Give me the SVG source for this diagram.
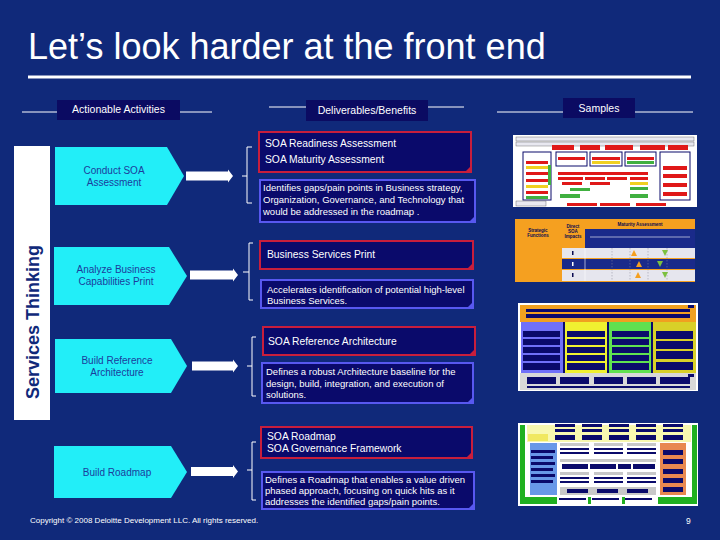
<svg xmlns="http://www.w3.org/2000/svg" width="720" height="540" viewBox="0 0 720 540">
<defs>
<style>
.t{font-family:"Liberation Sans",Arial,sans-serif;fill:#fff}
.hdr{font-size:10.5px;text-anchor:middle}
.act{font-family:"Liberation Sans",Arial,sans-serif;font-size:10px;fill:#1c3c9c;text-anchor:middle}
.pent{fill:#22eef8}
.arrow{fill:#fff}
.br{fill:none;stroke:#fff;stroke-width:1}
.red{fill:#0a0a6b;stroke:#c81e3c;stroke-width:2}
.blue{fill:#0a0a6b;stroke:#5858f0;stroke-width:2}
.rc{fill:#c81e3c}
.bc{fill:#5858f0}
.rt{font-size:10.3px}
.bt{font-size:9.5px}
.hl{stroke:#fff;stroke-width:1}
.hbox{fill:#0b0b62}
.nv{fill:#0a0a6b}
.tiny{font-family:"Liberation Sans",Arial,sans-serif;font-size:4.5px;font-weight:bold;fill:#0a0a50;text-anchor:middle}
</style>
</defs>
<rect width="720" height="540" fill="#10297a"/>

<g id="title">
<text class="t" x="28" y="59" font-size="36">Let’s look harder at the front end</text>
<rect x="28" y="75.5" width="663" height="3" fill="#fff"/>
</g>

<g id="headers">
<line class="hl" x1="22" y1="112" x2="57" y2="112"/>
<line class="hl" x1="180" y1="112" x2="212" y2="112"/>
<rect class="hbox" x="57" y="100" width="123" height="20"/>
<text class="t hdr" x="118.5" y="113">Actionable Activities</text>
<line class="hl" x1="269" y1="107" x2="306" y2="107"/>
<line class="hl" x1="428" y1="107" x2="464" y2="107"/>
<rect class="hbox" x="306" y="100" width="122" height="21"/>
<text class="t hdr" x="367" y="114">Deliverables/Benefits</text>
<line class="hl" x1="497" y1="112" x2="563" y2="112"/>
<line class="hl" x1="635" y1="112" x2="693" y2="112"/>
<rect class="hbox" x="563" y="98" width="72" height="20"/>
<text class="t hdr" x="599" y="112">Samples</text>
</g>

<g id="side-label">
<rect x="14" y="146" width="36" height="274" fill="#fff"/>
<text transform="translate(39,322) rotate(-90)" font-family="'Liberation Sans',Arial,sans-serif" font-size="18" font-weight="bold" fill="#10297a" text-anchor="middle">Services  Thinking</text>
</g>

<g id="act1">
<polygon class="pent" points="55,147 167,147 184,176 167,205 55,205"/>
<text class="act" x="114" y="174">Conduct SOA</text>
<text class="act" x="114" y="186">Assessment</text>
</g>
<g id="act2">
<polygon class="pent" points="54,247 169,247 187,276 169,305 54,305"/>
<text class="act" x="116" y="273">Analyze Business</text>
<text class="act" x="116" y="285">Capabilities Print</text>
</g>
<g id="act3">
<polygon class="pent" points="55,339 171,339 187,366 171,393 55,393"/>
<text class="act" x="117" y="364">Build Reference</text>
<text class="act" x="117" y="376">Architecture</text>
</g>
<g id="act4">
<polygon class="pent" points="54,446 171,446 187,472 171,498 54,498"/>
<text class="act" x="117" y="476">Build Roadmap</text>
</g>

<g id="connectors">
<polygon class="arrow" points="186,171.5 228,171.5 228,169.5 233,176 228,182.5 228,180.5 186,180.5"/>
<polygon class="arrow" points="190,270.5 233,270.5 233,268.5 238,275 233,281.5 233,279.5 190,279.5"/>
<polygon class="arrow" points="192,361.5 233,361.5 233,359.5 238,366 233,372.5 233,370.5 192,370.5"/>
<polygon class="arrow" points="191,467 233,467 233,465 238,471.5 233,478 233,476 191,476"/>
<path class="br" d="M252,147 H247 V203 H252 M242,176 H247"/>
<path class="br" d="M253,243 H249 V300 H253 M243,272 H249"/>
<path class="br" d="M256,337 H252 V396 H256 M247,366 H252"/>
<path class="br" d="M256,442 H252 V500 H256 M247,470 H252"/>
</g>

<g id="del1">
<rect class="red" x="259" y="132" width="212" height="40"/>
<polygon class="rc" points="465,172 471,166 471,172"/>
<text class="t rt" x="265" y="147">SOA Readiness Assessment</text>
<text class="t rt" x="265" y="163">SOA Maturity Assessment</text>
<rect class="blue" x="260" y="180" width="215" height="42"/>
<polygon class="bc" points="469,222 475,216 475,222"/>
<text class="t bt" x="263" y="191">Identifies gaps/pain points in Business strategy,</text>
<text class="t bt" x="263" y="203">Organization, Governance, and Technology that</text>
<text class="t bt" x="263" y="215">would be addressed in the roadmap .</text>
</g>
<g id="del2">
<rect class="red" x="260" y="241" width="213" height="28"/>
<polygon class="rc" points="467,269 473,263 473,269"/>
<text class="t rt" x="267" y="258">Business Services Print</text>
<rect class="blue" x="261" y="280" width="212" height="28"/>
<polygon class="bc" points="467,308 473,302 473,308"/>
<text class="t bt" x="267" y="293">Accelerates identification of potential high-level</text>
<text class="t bt" x="267" y="304">Business Services.</text>
</g>
<g id="del3">
<rect class="red" x="263" y="327" width="212" height="28"/>
<polygon class="rc" points="469,355 475,349 475,355"/>
<text class="t rt" x="268" y="345">SOA Reference Architecture</text>
<rect class="blue" x="262" y="363" width="211" height="40"/>
<polygon class="bc" points="467,403 473,397 473,403"/>
<text class="t bt" x="266" y="375">Defines a robust Architecture baseline for the</text>
<text class="t bt" x="266" y="387">design, build, integration, and execution of</text>
<text class="t bt" x="266" y="398">solutions.</text>
</g>
<g id="del4">
<rect class="red" x="261" y="427" width="211" height="31"/>
<polygon class="rc" points="466,458 472,452 472,458"/>
<text class="t rt" x="267" y="440">SOA Roadmap</text>
<text class="t rt" x="267" y="452">SOA Governance Framework</text>
<rect class="blue" x="262" y="472" width="212" height="37"/>
<polygon class="bc" points="468,509 474,503 474,509"/>
<text class="t bt" x="265" y="483">Defines a Roadmap that enables a value driven</text>
<text class="t bt" x="265" y="494">phased approach, focusing on quick hits as it</text>
<text class="t bt" x="265" y="505">addresses the identified gaps/pain points.</text>
</g>

<g id="sample1">
<rect x="513" y="135" width="184" height="72" fill="#fff"/>
<rect x="516" y="137" width="178" height="4" fill="#e8e8f0" stroke="#555" stroke-width="0.4"/>
<rect x="516" y="142" width="178" height="4" fill="#e8e8f0" stroke="#555" stroke-width="0.4"/>
<g fill="#e01818">
<rect x="552" y="145" width="22" height="5"/><rect x="580" y="145" width="20" height="5"/><rect x="605" y="145" width="28" height="5"/><rect x="640" y="145" width="25" height="5"/><rect x="668" y="145" width="20" height="5"/>
</g>
<g fill="none" stroke="#0a0a6b" stroke-width="1">
<rect x="523" y="152" width="28" height="48"/><rect x="556" y="152" width="31" height="14"/><rect x="590" y="152" width="32" height="14"/><rect x="625" y="152" width="31" height="14"/><rect x="660" y="152" width="30" height="48"/>
</g>
<g fill="#e01818">
<rect x="526" y="161" width="22" height="3"/><rect x="526" y="172" width="22" height="3"/><rect x="526" y="179" width="22" height="3"/><rect x="526" y="191" width="22" height="3"/>
<rect x="558" y="157" width="27" height="3"/><rect x="592" y="157" width="28" height="3"/><rect x="627" y="157" width="27" height="3"/>
<rect x="663" y="166" width="24" height="4"/><rect x="663" y="174" width="24" height="4"/><rect x="663" y="183" width="24" height="4"/><rect x="663" y="192" width="24" height="4"/>
<rect x="558" y="172" width="90" height="3"/><rect x="558" y="177" width="25" height="3"/><rect x="585" y="177" width="20" height="3"/><rect x="607" y="177" width="20" height="3"/><rect x="630" y="177" width="18" height="3"/>
<rect x="562" y="182" width="20" height="3"/><rect x="590" y="182" width="20" height="3"/>
<rect x="567" y="203" width="30" height="3"/><rect x="600" y="203" width="30" height="3"/><rect x="636" y="203" width="30" height="3"/>
</g>
<g fill="#f0d020">
<rect x="526" y="166" width="22" height="3"/><rect x="526" y="185" width="22" height="3"/><rect x="630" y="182" width="18" height="3"/><rect x="592" y="161" width="28" height="3"/>
</g>
<g fill="#40b040">
<rect x="526" y="196" width="22" height="3"/><rect x="548" y="165" width="3" height="20"/><rect x="570" y="188" width="20" height="3"/><rect x="630" y="187" width="18" height="3"/><rect x="627" y="161" width="27" height="3"/><rect x="560" y="194" width="20" height="4"/><rect x="630" y="194" width="18" height="4"/>
</g>
<rect x="516" y="201" width="30" height="5" fill="#e8e8f0" stroke="#555" stroke-width="0.4"/>
</g>

<g id="sample2">
<rect x="515" y="219" width="180" height="63" fill="#f5a020"/>
<rect x="585" y="229" width="110" height="19" fill="#1a2a8a"/>
<line x1="590" y1="237" x2="690" y2="237" stroke="#fff" stroke-width="0.6"/>
<rect x="562" y="248" width="133" height="10" fill="#e6e6ee"/>
<rect x="562" y="259" width="133" height="10" fill="#1a2a8a"/>
<rect x="562" y="270" width="133" height="11" fill="#e6e6ee"/>
<line x1="585" y1="248" x2="585" y2="281" stroke="#fff" stroke-width="0.6"/>
<g stroke="#889" stroke-width="0.5" stroke-dasharray="1.5,1.5">
<line x1="612" y1="248" x2="612" y2="281"/><line x1="630" y1="248" x2="630" y2="281"/><line x1="648" y1="248" x2="648" y2="281"/><line x1="667" y1="248" x2="667" y2="281"/>
</g>
<text class="tiny" x="538" y="232">Strategic</text>
<text class="tiny" x="538" y="237">Functions</text>
<text class="tiny" x="573" y="228">Direct</text>
<text class="tiny" x="573" y="233">SOA</text>
<text class="tiny" x="573" y="238">Impacts</text>
<text class="tiny" x="640" y="226">Maturity Assessment</text>
<g fill="#f5a020"><polygon points="634,250 637,256 631,256"/><polygon points="639,261 642,267 636,267"/><polygon points="638,272 641,278 635,278"/></g>
<g fill="#7cc040"><polygon points="662,250 668,250 665,256"/><polygon points="657,261 663,261 660,267"/><polygon points="662,272 668,272 665,278"/></g>
<g fill="#0a0a50"><rect x="572" y="251" width="1.5" height="4"/><rect x="572" y="262" width="1.5" height="4" fill="#fff"/><rect x="572" y="273" width="1.5" height="4"/></g>
</g>

<g id="sample3">
<rect x="518" y="303" width="180" height="88" fill="#fff"/>
<rect x="520" y="305" width="176" height="17" fill="#f0a020"/>
<rect x="526" y="309" width="164" height="3" class="nv"/>
<rect x="526" y="314" width="164" height="4" class="nv"/>
<rect x="688" y="305" width="6" height="3" class="nv"/>
<rect x="521" y="322" width="42" height="51" fill="#7070f8"/>
<rect x="565" y="322" width="42" height="51" fill="#f0f030"/>
<rect x="609" y="322" width="42" height="51" fill="#60e050"/>
<rect x="653" y="322" width="43" height="51" fill="#d8d028"/>
<g class="nv">
<rect x="563" y="322" width="2" height="51"/><rect x="607" y="322" width="2" height="51"/><rect x="651" y="322" width="2" height="51"/>
<rect x="523" y="331" width="37" height="6"/><rect x="523" y="339" width="37" height="6"/><rect x="523" y="347" width="37" height="6"/><rect x="523" y="355" width="37" height="6"/><rect x="523" y="363" width="37" height="7"/>
<rect x="567" y="331" width="38" height="6"/><rect x="567" y="339" width="38" height="6"/><rect x="567" y="347" width="38" height="6"/><rect x="567" y="355" width="38" height="6"/><rect x="567" y="363" width="38" height="7"/>
<rect x="612" y="331" width="37" height="6"/><rect x="612" y="339" width="37" height="6"/><rect x="612" y="347" width="37" height="6"/><rect x="612" y="355" width="37" height="6"/><rect x="612" y="363" width="37" height="7"/>
<rect x="656" y="331" width="37" height="8"/><rect x="656" y="341" width="37" height="8"/><rect x="656" y="351" width="37" height="8"/><rect x="656" y="362" width="37" height="8"/>
</g>
<rect x="520" y="373" width="176" height="17" fill="#d8d8d8"/>
<g class="nv">
<rect x="527" y="377" width="29" height="7"/><rect x="560" y="377" width="29" height="7"/><rect x="594" y="377" width="29" height="7"/><rect x="627" y="377" width="29" height="7"/><rect x="660" y="377" width="30" height="7"/>
<rect x="527" y="386" width="163" height="2"/><rect x="688" y="374" width="6" height="3"/>
</g>
</g>

<g id="sample4">
<rect x="518" y="423" width="180" height="83" fill="#fff"/>
<rect x="520" y="425" width="5" height="79" fill="#20b020"/>
<rect x="692" y="425" width="5" height="79" fill="#20b020"/>
<rect x="527" y="425" width="164" height="17" fill="#f8f8b0"/>
<rect x="528" y="434" width="20" height="7" fill="#f0e860"/>
<g class="nv">
<rect x="555" y="424" width="20" height="3"/><rect x="582" y="424" width="20" height="3"/><rect x="609" y="424" width="20" height="3"/><rect x="636" y="424" width="20" height="3"/><rect x="663" y="424" width="20" height="3"/>
<rect x="555" y="429" width="20" height="3"/><rect x="582" y="429" width="20" height="3"/><rect x="609" y="429" width="20" height="3"/><rect x="636" y="429" width="20" height="3"/><rect x="663" y="429" width="20" height="3"/>
<rect x="555" y="435" width="20" height="5"/><rect x="582" y="435" width="20" height="5"/><rect x="609" y="435" width="20" height="5"/><rect x="636" y="435" width="20" height="5"/><rect x="663" y="435" width="20" height="5"/>
</g>
<rect x="530" y="443" width="27" height="52" fill="#6898e8"/>
<g class="nv"><rect x="531" y="450" width="24" height="3"/><rect x="531" y="456" width="22" height="3"/><rect x="531" y="462" width="24" height="3"/><rect x="531" y="468" width="22" height="3"/><rect x="531" y="474" width="24" height="3"/><rect x="531" y="480" width="22" height="3"/></g>
<rect x="660" y="443" width="26" height="52" fill="#e88850"/>
<g class="nv"><rect x="663" y="450" width="20" height="5"/><rect x="663" y="459" width="20" height="5"/><rect x="663" y="469" width="20" height="5"/><rect x="663" y="478" width="20" height="5"/><rect x="663" y="487" width="20" height="5"/></g>
<g fill="#c8c8c8">
<rect x="560" y="443" width="29" height="3"/><rect x="594" y="443" width="29" height="3"/><rect x="627" y="443" width="29" height="3"/>
<rect x="560" y="459" width="96" height="3"/>
<rect x="560" y="472" width="29" height="3"/><rect x="594" y="472" width="29" height="3"/><rect x="627" y="472" width="29" height="3"/>
<rect x="560" y="487" width="96" height="8"/>
</g>
<g class="nv">
<rect x="560" y="448" width="29" height="2"/><rect x="594" y="448" width="29" height="2"/><rect x="627" y="448" width="29" height="2"/>
<rect x="560" y="452" width="29" height="2"/><rect x="594" y="452" width="29" height="2"/><rect x="627" y="452" width="29" height="2"/>
<rect x="562" y="464" width="26" height="5"/><rect x="590" y="464" width="26" height="5"/><rect x="618" y="464" width="13" height="5"/><rect x="633" y="464" width="22" height="5"/>
<rect x="560" y="477" width="29" height="2"/><rect x="594" y="477" width="29" height="2"/><rect x="627" y="477" width="29" height="2"/>
<rect x="560" y="481" width="29" height="2"/><rect x="594" y="481" width="29" height="2"/><rect x="627" y="481" width="29" height="2"/>
<rect x="567" y="489" width="21" height="4"/><rect x="597" y="489" width="21" height="4"/><rect x="627" y="489" width="21" height="4"/>
<rect x="559" y="498" width="27" height="2"/><rect x="592" y="498" width="27" height="2"/><rect x="625" y="498" width="27" height="2"/>
</g>
<g fill="#20b020"><rect x="525" y="497" width="32" height="7"/><rect x="588" y="497" width="3" height="7"/><rect x="622" y="497" width="3" height="7"/><rect x="658" y="497" width="34" height="7"/></g>
</g>

<g id="footer">
<text class="t" x="30" y="523" font-size="8">Copyright © 2008 Deloitte Development LLC. All rights reserved.</text>
<text class="t" x="686" y="524" font-size="8.5">9</text>
</g>
</svg>
